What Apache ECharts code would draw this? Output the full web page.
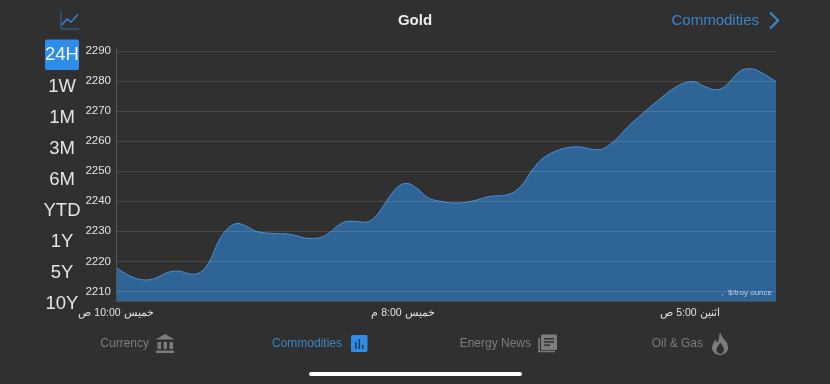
<!DOCTYPE html>
<html><head><meta charset="utf-8">
<style>html,body{margin:0;padding:0;background:#303030}#c{width:830px;height:384px}</style>
<script src="https://cdn.jsdelivr.net/npm/echarts@6/dist/echarts.min.js"></script>
</head><body><div id="c"></div>
<script>
const title = "Gold";
const hours = [0,0.49,1.01,1.36,1.78,2.13,2.68,3.0,3.28,3.55,3.87,4.25,4.56,4.91,5.47,6.06,6.76,7.11,7.46,7.8,8.15,8.68,9.02,9.3,9.62,9.9,10.14,10.49,10.87,11.29,11.88,12.44,13.03,13.62,14.08,14.53,14.88,15.47,16.1,16.76,17.21,17.91,18.85,19.55,20.1,20.52,20.9,21.22,21.74,22.09,22.44,23];
const prices = [2218,2215.1,2213.8,2214.3,2216.2,2216.8,2215.7,2216.8,2220.4,2226.2,2230.7,2232.6,2231.6,2229.9,2229.3,2229,2227.6,2227.9,2229.7,2232.3,2233.4,2233,2234.7,2238.2,2242.7,2245.4,2245.9,2244.3,2241.2,2240,2239.4,2240.1,2241.6,2242.1,2244.7,2250.7,2254.3,2257.2,2258.1,2257.1,2258.8,2265.4,2273.2,2278.2,2279.8,2278.2,2277.1,2278.2,2283.2,2284.1,2283.1,2279.8];
const yTicks = [2210,2220,2230,2240,2250,2260,2270,2280,2290];
const xTicks = [0,10,20];
const xTickLabels = ["خميس 10:00 ص","خميس 8:00 م","اثنين 5:00 ص"];
const ranges = ["24H","1W","1M","3M","6M","YTD","1Y","5Y","10Y"];
const unitLabel = ",  $/troy ounce";
const navLabels = ["Currency","Commodities","Energy News","Oil & Gas"];
const linkLabel = "Commodities";

const FONT = '"Liberation Sans", Arial, sans-serif';
const BLUE = '#3b84c6', GRAY = '#7c7c7c';
const rangeY = [55,86.5,117.5,148.5,179.5,210.5,241.5,272.5,303.5];
const navRight = [149,342,531,703];
const g = [];
const txt = (x,y,t,size,fill,align,weight) => g.push({type:'text',x,y,silent:true,style:{text:t,font:(weight||'normal')+' '+size+'px '+FONT,fill,align:align||'center',verticalAlign:'middle'}});

txt(415,20.5,title,15,'#eeeeee','center','bold');
txt(759,20.5,linkLabel,15,BLUE,'right');
g.push({type:'polyline',shape:{points:[[770,12.5],[778,20.5],[770,28.5]]},style:{stroke:BLUE,lineWidth:2.2,fill:null}});
g.push({type:'polyline',shape:{points:[[61,11],[61,29],[79,29]]},style:{stroke:'#2f6fa8',lineWidth:1,fill:null}});
g.push({type:'polyline',shape:{points:[[62,25],[67,19],[71,22],[78,14.5]]},style:{stroke:'#3b84c6',lineWidth:1.5,fill:null}});

g.push({type:'rect',shape:{x:45,y:39.5,width:34,height:30.5,r:2},style:{fill:'#2e8de6'}});
ranges.forEach((r,i)=>txt(62,rangeY[i],r,18.5,i===0?'#f0f6fc':'#e4e4e4'));

navLabels.forEach((n,i)=>txt(navRight[i],343.5,n,12,i===1?BLUE:GRAY,'right'));
// bank icon
g.push({type:'polygon',shape:{points:[[165,334],[174.5,339.5],[155.5,339.5]]},style:{fill:GRAY}});
[[157,342,3.5,7],[163,342,3.5,7],[169,342,3.5,7]].forEach(b=>g.push({type:'rect',shape:{x:b[0]+.5,y:b[1],width:b[2],height:b[3]},style:{fill:GRAY}}));
g.push({type:'rect',shape:{x:156,y:350.5,width:18,height:2.5},style:{fill:GRAY}});
// commodities icon
g.push({type:'rect',shape:{x:351,y:335,width:16.5,height:17,r:1.5},style:{fill:'#2e8de6'}});
[[355,342,1.6,7],[358.5,339,1.6,10],[362,345,1.6,4]].forEach(b=>g.push({type:'rect',shape:{x:b[0],y:b[1],width:b[2],height:b[3]},style:{fill:'#1d3d5c'}}));
// news icon
g.push({type:'rect',shape:{x:541,y:334.5,width:16,height:15.5,r:1},style:{fill:GRAY}});
g.push({type:'polyline',shape:{points:[[539,338],[539,351.5],[555,351.5]]},style:{stroke:GRAY,lineWidth:1.6,fill:null}});
[[544,338,10,1.5],[544,341.2,10,1.5],[544,344.4,6,1.5]].forEach(b=>g.push({type:'rect',shape:{x:b[0],y:b[1],width:b[2],height:b[3]},style:{fill:'#303030'}}));
// flame icon
g.push({type:'polygon',shape:{smooth:0.3,points:[[720,333],[723,338],[727,343],[728,349],[725,353.5],[720,355],[715,353.5],[712,349],[713,344],[715.5,340],[717.5,342.5],[719,338]]},style:{fill:GRAY}});
g.push({type:'polygon',shape:{smooth:0.3,points:[[720.5,343],[723,347],[724,350.5],[722,353.5],[719,353.5],[716.5,351],[717.5,347]]},style:{fill:'#303030'}});
g.push({type:'rect',shape:{x:309,y:372,width:213,height:4,r:2},style:{fill:'#ffffff'}});
g.push({type:'text',x:772,y:293,z:10,silent:true,style:{text:unitLabel,font:'8px '+FONT,fill:'#b9d0e6',align:'right',verticalAlign:'middle'}});

const chart = echarts.init(document.getElementById('c'));
chart.setOption({
  backgroundColor:'#303030',
  animation:false,
  grid:{left:116,right:54,top:48,bottom:83},
  xAxis:{type:'value',min:0,max:23,z:3,
    axisLine:{show:true,onZero:false,lineStyle:{color:'#4c4c4c',width:1}},
    axisTick:{show:false,customValues:xTicks},splitLine:{show:false},
    axisLabel:{customValues:xTicks,color:'#e2e2e2',fontSize:10.5,fontFamily:FONT,margin:7,showMinLabel:true,showMaxLabel:true,
      formatter:v=>xTickLabels[xTicks.indexOf(v)]||''}},
  yAxis:{type:'value',min:2206.8,max:2291,z:3,
    axisLine:{show:true,lineStyle:{color:'#555555',width:1}},
    axisTick:{show:false,customValues:yTicks},
    splitLine:{show:true,lineStyle:{color:'rgba(255,255,255,0.12)',width:1}},
    axisLabel:{customValues:yTicks,color:'#e2e2e2',fontSize:11.5,fontFamily:FONT,margin:5,verticalAlignMinLabel:'middle',verticalAlignMaxLabel:'middle',
      formatter:v=>String(v)}},
  series:[{type:'line',data:hours.map((h,i)=>[h,prices[i]]),showSymbol:false,smooth:0.4,z:2,
    lineStyle:{color:'#4a90d2',width:1},areaStyle:{color:'#2f6496',opacity:1,origin:'start'}}],
  graphic:g
});
</script></body></html>
